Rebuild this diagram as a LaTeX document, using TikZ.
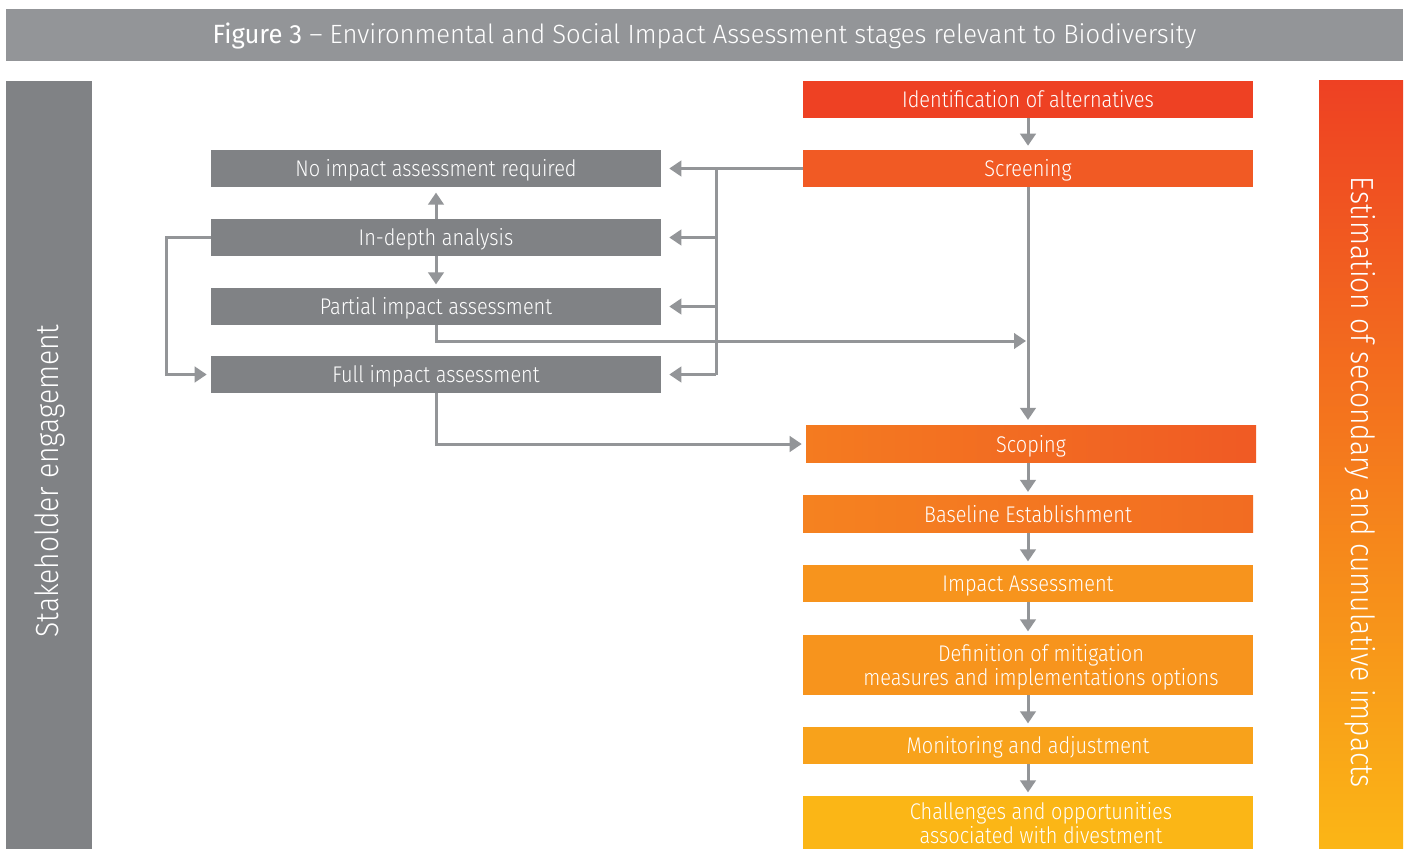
\documentclass[tikz,border=0pt]{standalone}
\usepackage{fontspec}
\setmainfont{Fira Sans Light}[FakeStretch=0.88]
\newfontfamily\headfont{Fira Sans Light}[FakeStretch=0.97]
\newfontfamily\figfont{Fira Sans}[FakeStretch=0.97]
\usetikzlibrary{arrows.meta,calc}

\definecolor{titlegrey}{HTML}{939598}
\definecolor{boxgrey}{HTML}{808285}
\definecolor{linegrey}{HTML}{939598}
\definecolor{cIdent}{HTML}{EE4123}
\definecolor{cScreen}{HTML}{F15A24}
\definecolor{cScopeL}{HTML}{F47B20}
\definecolor{cScopeR}{HTML}{F05A24}
\definecolor{cBaseL}{HTML}{F58220}
\definecolor{cBaseR}{HTML}{F26C22}
\definecolor{cImpact}{HTML}{F7941D}
\definecolor{cDefine}{HTML}{F7941D}
\definecolor{cMonitor}{HTML}{F8A21B}
\definecolor{cChallenge}{HTML}{FBB616}
\definecolor{cSideTop}{HTML}{EE4123}
\definecolor{cSideMid}{HTML}{F5861F}
\definecolor{cSideBot}{HTML}{FBB616}

\def\pxu{0.75pt}

\tikzset{
  stagebox/.style={inner sep=0pt, minimum width=450*\pxu, minimum height=37*\pxu,
    text height=12pt, text depth=0pt,
    text=white, font=\fontsize{17}{18}\selectfont, align=center},
  greybox/.style={stagebox, fill=boxgrey},
  stagetext/.style={text=white, font=\fontsize{17}{18}\selectfont, align=center, inner sep=0pt},
  wire/.style={draw=linegrey, line width=2.25pt},
  flow/.style={wire, -{Triangle[width=11.5pt,length=9pt]}},
  sidelabel/.style={text=white, font=\fontsize{24}{26}\selectfont, inner sep=0pt},
}

\begin{document}
\begin{tikzpicture}[x=0.75pt,y=-0.75pt]
\useasboundingbox (0,0) rectangle (1407,849);
\fill[white] (0,0) rectangle (1407,849);

% heading bar
\node[fill=titlegrey, inner sep=0pt, minimum width=1397*\pxu, minimum height=52*\pxu] (title) at (704.5,35) {};
\node[text=white, inner sep=0pt, font=\headfont\fontsize{19.8}{22}\selectfont] (titletext) at (704.5,36)
  {{\figfont Figure 3} – Environmental and Social Impact Assessment stages relevant to Biodiversity};

% side bars
\node[fill=boxgrey, rotate=90, minimum width=768*\pxu, minimum height=86*\pxu, inner sep=0pt] (stakebar) at (49,465) {};
\node[sidelabel, rotate=90] (stake) at (50,481) {Stakeholder engagement};
\shade[top color=cSideTop, middle color=cSideMid, bottom color=cSideBot] (1319,81) rectangle (1403,849);
\node[sidelabel, rotate=-90] (impacts) at (1360,482.5) {Estimation of secondary and cumulative impacts};

% main sequence
\node[stagebox, fill=cIdent] (ident) at (1028,99.5) {Identification of alternatives};
\node[stagebox, fill=cScreen] (screen) at (1028,168.5) {Screening};
\node[stagebox, left color=cScopeL, right color=cScopeR] (scope) at (1031,444) {Scoping};
\node[stagebox, left color=cBaseL, right color=cBaseR] (base) at (1028,514) {Baseline Establishment};
\node[stagebox, fill=cImpact] (impact) at (1028,583.5) {Impact Assessment};
\node[stagebox, fill=cDefine, minimum height=60*\pxu] (define) at (1028,665) {};
\node[stagetext] (definetext) at (1041,667) {Definition of mitigation\\measures and implementations options};
\node[stagebox, fill=cChallenge, minimum height=53*\pxu] (challenge) at (1028,822.5) {};
\node[stagetext] (challengetext) at (1041,823) {Challenges and opportunities\\associated with divestment};
\node[stagebox, fill=cMonitor] (monitor) at (1028,745.5) {Monitoring and adjustment};

% screening outcomes
\node[greybox] (noimp) at (436,168.5) {No impact assessment required};
\node[greybox] (indepth) at (436,237.5) {In-depth analysis};
\node[greybox] (partial) at (436,306.5) {Partial impact assessment};
\node[greybox] (full) at (436,374.5) {Full impact assessment};

% helper points
\coordinate (busx) at (716,0);
\coordinate (loopx) at (166,0);
\coordinate (tap) at (1026,341);

% connectors
\draw[flow, shorten >=3pt] (ident) -- (screen);
\draw[wire] (screen.west) -- (screen.west -| busx) -- (full.east -| busx);
\draw[flow, shorten >=6pt] (screen.west -| busx) -- (noimp.east);
\draw[flow, shorten >=6pt] (indepth.east -| busx) -- (indepth.east);
\draw[flow, shorten >=6pt] (partial.east -| busx) -- (partial.east);
\draw[flow, shorten >=6pt] (full.east -| busx) -- (full.east);

\draw[flow, shorten >=4pt] (indepth.north) -- (noimp.south);
\draw[flow, shorten >=2.5pt] (indepth.south) -- (partial.north);
\draw[flow, shorten >=3pt] (indepth.west) -- (indepth.west -| loopx) |- (full.west);

\draw[flow] (partial.south) |- (tap);
\draw[flow, shorten >=4pt] (screen.south) -- (screen.south |- scope.north);
\draw[flow, shorten >=3pt] (full.south) |- (scope.west);

\draw[flow, shorten >=2.5pt] (scope.south -| base.north) -- (base.north);
\draw[flow, shorten >=2.5pt] (base) -- (impact);
\draw[flow, shorten >=2.5pt] (impact) -- (define);
\draw[flow, shorten >=2.5pt] (define) -- (monitor);
\draw[flow, shorten >=2.5pt] (monitor) -- (challenge);
\end{tikzpicture}
\end{document}
